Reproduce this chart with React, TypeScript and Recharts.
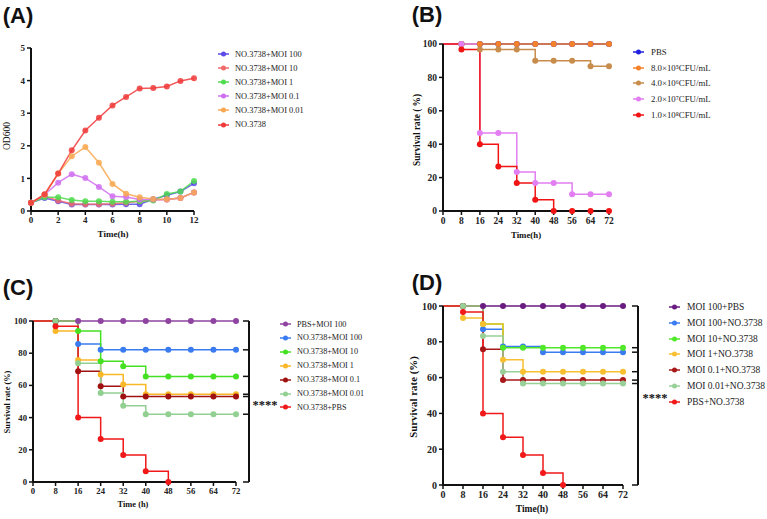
import React from "react";
import { LineChart, Line, XAxis, YAxis } from "recharts";

const serif = "'Liberation Serif', 'Times New Roman', serif";
const sans = "'Liberation Sans', Arial, sans-serif";

// (A) OD600 growth curves
const hoursA = [0, 1, 2, 3, 4, 5, 6, 7, 8, 9, 10, 11, 12];
const odMoi100 = [0.25, 0.4, 0.3, 0.2, 0.2, 0.2, 0.2, 0.21, 0.21, 0.36, 0.48, 0.6, 0.85];
const odMoi10 = [0.25, 0.45, 0.32, 0.22, 0.21, 0.21, 0.22, 0.25, 0.3, 0.34, 0.35, 0.4, 0.57];
const odMoi1 = [0.25, 0.42, 0.42, 0.34, 0.3, 0.3, 0.28, 0.28, 0.3, 0.32, 0.52, 0.6, 0.92];
const odMoi01 = [0.25, 0.5, 0.87, 1.13, 1.01, 0.74, 0.45, 0.43, 0.35, 0.35, 0.35, 0.4, 0.57];
const odMoi001 = [0.25, 0.5, 1.15, 1.68, 1.96, 1.48, 0.83, 0.53, 0.42, 0.37, 0.36, 0.4, 0.57];
const odHost = [0.25, 0.51, 1.15, 1.86, 2.47, 2.86, 3.24, 3.5, 3.76, 3.77, 3.82, 3.99, 4.07];

// survival time points (h)
const hoursKM = [0, 8, 16, 24, 32, 40, 48, 56, 64, 72];

// (B) dose survival
const bPbs = [100, 100, 100, 100, 100, 100, 100, 100, 100, 100];
const b8e5 = [100, 100, 100, 100, 100, 100, 100, 100, 100, 100];
const b4e6 = [100, 100, 96.7, 96.7, 96.7, 90, 90, 90, 86.7, 86.7];
const b2e7 = [100, 100, 46.7, 46.7, 23.3, 16.7, 16.7, 10, 10, 10];
const b1e8 = [100, 96.7, 40, 26.7, 16.7, 6.7, 0, 0, 0, 0];

// (C) phage treatment survival
const cPbsMoi100 = [100, 100, 100, 100, 100, 100, 100, 100, 100, 100];
const cMoi100 = [100, 100, 85.7, 82.1, 82.1, 82.1, 82.1, 82.1, 82.1, 82.1];
const cMoi10 = [100, 100, 93.8, 75, 71.9, 65.6, 65.6, 65.6, 65.6, 65.6];
const cMoi1 = [100, 93.8, 75.8, 66.7, 60.6, 54.5, 54.5, 54.5, 54.5, 54.5];
const cMoi01 = [100, 100, 68.8, 59.4, 53.1, 53.1, 53.1, 53.1, 53.1, 53.1];
const cMoi001 = [100, 100, 73.7, 55.3, 47.4, 42.1, 42.1, 42.1, 42.1, 42.1];
const cPbs = [100, 96.7, 40, 26.7, 16.7, 6.7, 0, null, null, null];

// (D) phage prophylaxis survival
const dMoi100Pbs = [100, 100, 100, 100, 100, 100, 100, 100, 100, 100];
const dMoi100 = [100, 100, 87, 77.4, 77.4, 74.2, 74.2, 74.2, 74.2, 74.2];
const dMoi10 = [100, 100, 90, 76.7, 76.7, 76.7, 76.7, 76.7, 76.7, 76.7];
const dMoi1 = [100, 93.3, 90, 70, 63.3, 63.3, 63.3, 63.3, 63.3, 63.3];
const dMoi01 = [100, 100, 75.9, 58.6, 58.6, 58.6, 58.6, 58.6, 58.6, 58.6];
const dMoi001 = [100, 100, 83.3, 63.3, 56.7, 56.7, 56.7, 56.7, 56.7, 56.7];
const dPbs = [100, 96.7, 40, 26.7, 16.7, 6.7, 0, null, null, null];

type Series = { name: string; color: string; values: (number | null)[] };

const seriesA: Series[] = [
  { name: "NO.3738+MOI 100", color: "#5b4ae8", values: odMoi100 },
  { name: "NO.3738+MOI 10", color: "#f06a6a", values: odMoi10 },
  { name: "NO.3738+MOI 1", color: "#4fdc4f", values: odMoi1 },
  { name: "NO.3738+MOI 0.1", color: "#d06ef0", values: odMoi01 },
  { name: "NO.3738+MOI 0.01", color: "#f8a850", values: odMoi001 },
  { name: "NO.3738", color: "#f03a3a", values: odHost },
];

const seriesB: Series[] = [
  { name: "PBS", color: "#2020e0", values: bPbs },
  { name: "8.0×10⁵CFU/mL", color: "#f5822a", values: b8e5 },
  { name: "4.0×10⁶CFU/mL", color: "#c88c4c", values: b4e6 },
  { name: "2.0×10⁷CFU/mL", color: "#e27ef2", values: b2e7 },
  { name: "1.0×10⁸CFU/mL", color: "#f01414", values: b1e8 },
];

const seriesC: Series[] = [
  { name: "PBS+MOI 100", color: "#8e44a0", values: cPbsMoi100 },
  { name: "NO.3738+MOI 100", color: "#3a7cf0", values: cMoi100 },
  { name: "NO.3738+MOI 10", color: "#44e022", values: cMoi10 },
  { name: "NO.3738+MOI 1", color: "#f8b828", values: cMoi1 },
  { name: "NO.3738+MOI 0.1", color: "#a01212", values: cMoi01 },
  { name: "NO.3738+MOI 0.01", color: "#92d092", values: cMoi001 },
  { name: "NO.3738+PBS", color: "#f01818", values: cPbs },
];

const seriesD: Series[] = [
  { name: "MOI 100+PBS", color: "#6a1b80", values: dMoi100Pbs },
  { name: "MOI 100+NO.3738", color: "#3a7cf0", values: dMoi100 },
  { name: "MOI 10+NO.3738", color: "#50e828", values: dMoi10 },
  { name: "MOI 1+NO.3738", color: "#f8c030", values: dMoi1 },
  { name: "MOI 0.1+NO.3738", color: "#a81818", values: dMoi01 },
  { name: "MOI 0.01+NO.3738", color: "#98d098", values: dMoi001 },
  { name: "PBS+NO.3738", color: "#f01818", values: dPbs },
];

const ticksA = [0, 2, 4, 6, 8, 10, 12];
const ticksOD = [0, 1, 2, 3, 4, 5];
const ticksKM = [0, 8, 16, 24, 32, 40, 48, 56, 64, 72];
const ticksPct = [0, 20, 40, 60, 80, 100];

function rows(x: number[], series: Series[]) {
  return x.map((t, i) => {
    const r: Record<string, number | null> = { t };
    series.forEach((s, k) => {
      r["s" + k] = s.values[i] ?? null;
    });
    return r;
  });
}

function endValues(series: Series[]) {
  const v = new Set<number>([0, 100]);
  series.forEach((s) => {
    const last = s.values.filter((x) => x != null);
    v.add(last[last.length - 1] as number);
  });
  return Array.from(v).sort((a, b) => a - b);
}

type PanelProps = {
  left: number;
  top: number;
  width: number;
  height: number;
  margin: { top: number; right: number; bottom: number; left: number };
  yWidth: number;
  xHeight: number;
  x: number[];
  series: Series[];
  step: boolean;
  xTicks: number[];
  yTicks: number[];
  fontSize: number;
  gap?: number;
};

function Panel(p: PanelProps) {
  const data = rows(p.x, p.series);
  const axis = { stroke: "#111", strokeWidth: 2 };
  const tl = { stroke: "#111", strokeWidth: 1.5 };
  const tickFont = { fontSize: p.fontSize, fontWeight: 700, fill: "#222", fontFamily: serif };
  const yMax = p.yTicks[p.yTicks.length - 1];
  return (
    <div style={{ position: "absolute", left: p.left, top: p.top }}>
      <LineChart width={p.width} height={p.height} data={data} margin={p.margin}>
        <XAxis
          dataKey="t"
          type="number"
          domain={[0, p.xTicks[p.xTicks.length - 1]]}
          ticks={p.xTicks}
          interval={0}
          height={p.xHeight}
          axisLine={axis}
          tickLine={tl}
          tickSize={4}
          tick={tickFont}
        />
        <YAxis
          yAxisId="l"
          type="number"
          domain={[0, yMax]}
          ticks={p.yTicks}
          interval={0}
          width={p.yWidth}
          axisLine={axis}
          tickLine={tl}
          tickSize={4}
          tick={tickFont}
        />
        {p.gap ? (
          <YAxis
            yAxisId="r1"
            orientation="right"
            width={p.gap}
            domain={[0, yMax]}
            axisLine={false}
            tickLine={false}
            tick={false}
          />
        ) : null}
        {p.gap ? (
          <YAxis
            yAxisId="r2"
            orientation="right"
            type="number"
            width={3}
            domain={[0, yMax]}
            ticks={endValues(p.series)}
            interval={0}
            tickSize={-6}
            axisLine={axis}
            tickLine={tl}
            tick={(t: any) => <g key={"bt" + t.index} />}
          />
        ) : null}
        {p.gap ? (
          <Line yAxisId="r2" dataKey="s0" stroke="none" dot={false} activeDot={false} legendType="none" isAnimationActive={false} />
        ) : null}
        {p.series.map((s, k) => (
          <Line
            key={s.name}
            yAxisId="l"
            dataKey={"s" + k}
            type={p.step ? "stepAfter" : "linear"}
            stroke={s.color}
            strokeWidth={1.5}
            strokeOpacity={p.step ? 1 : 0.85}
            connectNulls={false}
            isAnimationActive={false}
            dot={(d: any) =>
              (p.step && d.index === 0) || d.cy == null ? (
                <g key={"d" + d.index} />
              ) : (
                <circle key={"d" + d.index} cx={d.cx} cy={d.cy} r={3} fill={s.color} fillOpacity={p.step ? 1 : 0.85} />
              )
            }
            activeDot={false}
          />
        ))}
      </LineChart>
    </div>
  );
}

function Legend({ left, top, gap, fontSize, series, sw = 11, tx = 6 }: { left: number; top: number; gap: number; fontSize: number; series: Series[]; sw?: number; tx?: number }) {
  return (
    <div style={{ position: "absolute", left, top, fontFamily: serif, fontSize, color: "#222" }}>
      {series.map((s, i) => (
        <div
          key={s.name}
          style={{ position: "absolute", left: 0, top: i * gap - 8, height: 16, display: "flex", alignItems: "center", whiteSpace: "nowrap" }}
        >
          <svg width={sw} height={8} style={{ display: "block", flex: "none" }}>
            <line x1={0} x2={sw} y1={4} y2={4} stroke={s.color} strokeWidth={1.5} />
            <circle cx={sw / 2} cy={4} r={2.5} fill={s.color} />
          </svg>
          <span style={{ marginLeft: tx }}>{s.name}</span>
        </div>
      ))}
    </div>
  );
}

function Text({ x, y, size, bold = true, rotate = false, family = serif, children }: any) {
  return (
    <div
      style={{
        position: "absolute",
        left: x,
        top: y,
        transform: `translate(-50%, -50%)${rotate ? " rotate(-90deg)" : ""}`,
        fontFamily: family,
        fontSize: size,
        fontWeight: bold ? 700 : 400,
        whiteSpace: "nowrap",
        color: "#111",
        lineHeight: 1,
      }}
    >
      {children}
    </div>
  );
}

export default function App() {
  return (
    <div style={{ position: "absolute", left: 0, top: 0, width: 767, height: 519, background: "#fff", overflow: "hidden" }}>
      <Text x={18} y={16} size={22} family={sans}>(A)</Text>
      <Text x={427} y={15} size={22} family={sans}>(B)</Text>
      <Text x={18} y={288} size={22} family={sans}>(C)</Text>
      <Text x={427} y={283} size={22} family={sans}>(D)</Text>

      <Panel left={0} top={0} width={200} height={250} margin={{ top: 48, right: 6, bottom: 9, left: 0 }}
        yWidth={31} xHeight={30} x={hoursA} series={seriesA} step={false} xTicks={ticksA} yTicks={ticksOD} fontSize={9} />
      <Text x={8} y={136} size={9.5} bold={false} rotate>OD600</Text>
      <Text x={113} y={234} size={9}>Time(h)</Text>
      <Legend left={218} top={54} gap={14.1} fontSize={8.4} series={seriesA} sw={11} tx={6} />

      <Panel left={390} top={0} width={225} height={250} margin={{ top: 44, right: 6, bottom: 9, left: 0 }}
        yWidth={53} xHeight={30} x={hoursKM} series={seriesB} step xTicks={ticksKM} yTicks={ticksPct} fontSize={9.5} />
      <Text x={418} y={130} size={9.3} rotate>Survival rate ( %)</Text>
      <Text x={526} y={235} size={8.8}>Time(h)</Text>
      <Legend left={633} top={52} gap={15.7} fontSize={8.8} series={seriesB} sw={11} tx={7} />

      <Panel left={0} top={260} width={258} height={252} margin={{ top: 61, right: 6, bottom: 5, left: 0 }}
        yWidth={33} xHeight={25} x={hoursKM} series={seriesC} step xTicks={ticksKM} yTicks={ticksPct} fontSize={8.7} gap={13} />
      <Text x={8} y={402} size={8.4} rotate>Survival rate (%)</Text>
      <Text x={133} y={505} size={8.4}>Time (h)</Text>
      <Text x={265} y={405} size={12.5}>****</Text>
      <Legend left={280} top={324} gap={13.9} fontSize={8.2} series={seriesC} sw={11} tx={6} />

      <Panel left={390} top={260} width={255} height={260} margin={{ top: 46, right: 4, bottom: 10, left: 0 }}
        yWidth={53} xHeight={25} x={hoursKM} series={seriesD} step xTicks={ticksKM} yTicks={ticksPct} fontSize={10} gap={15} />
      <Text x={413} y={397} size={10.9} rotate>Survival rate (%)</Text>
      <Text x={532} y={510} size={9.5}>Time(h)</Text>
      <Text x={655} y={398} size={12.5}>****</Text>
      <Legend left={669} top={307} gap={15.8} fontSize={9.5} series={seriesD} sw={11} tx={7} />
    </div>
  );
}
